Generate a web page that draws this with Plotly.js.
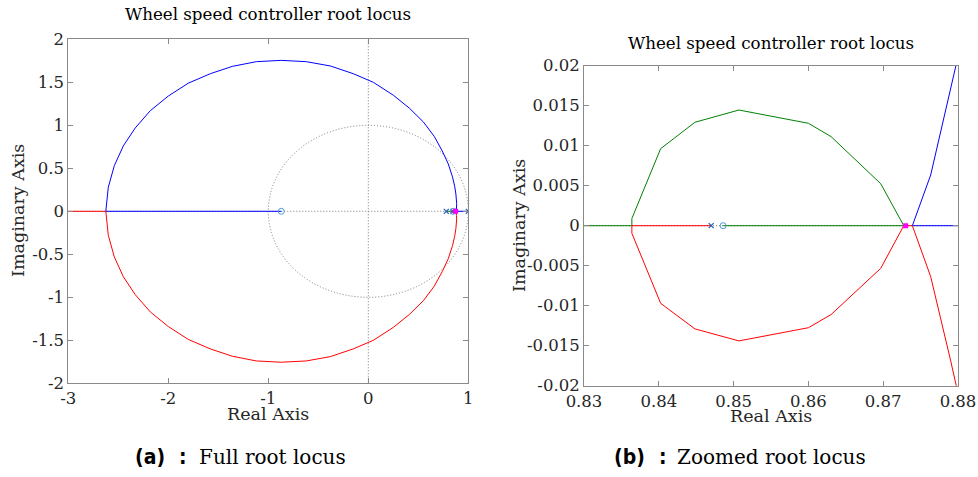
<!DOCTYPE html>
<html>
<head>
<meta charset="utf-8">
<script src="https://cdn.plot.ly/plotly-3.0.1.min.js"></script>
<style>html,body{margin:0;padding:0;background:#fff;}#chart{width:978px;height:477px;}</style>
</head>
<body>
<div id="chart"></div>
<script>
// ---- Data ----
// Upper (blue) main arc, from break-away near 0.874 to break-in at -2.625
const blueArcX = [0.8739, 0.87635, 0.879, 0.8812, 0.8825, 0.8835, 0.882, 0.876, 0.864, 0.842, 0.8, 0.74, 0.66, 0.55, 0.41, 0.25, 0.05, -0.15, -0.38, -0.62, -0.87, -1.12, -1.36, -1.58, -1.8, -2.0, -2.18, -2.33, -2.45, -2.54, -2.6, -2.62, -2.625];
const blueArcY = [0, 0.00634, 0.01696, 0.026, 0.05, 0.09, 0.14, 0.2, 0.29, 0.4, 0.55, 0.7, 0.87, 1.04, 1.2, 1.35, 1.5, 1.6, 1.69, 1.74, 1.755, 1.74, 1.685, 1.6, 1.49, 1.34, 1.17, 0.97, 0.76, 0.53, 0.28, 0.1, 0];
// Lower (red) main arc
const redArcX = [0.8739, 0.87635, 0.879, 0.8812, 0.8825, 0.8835, 0.882, 0.876, 0.864, 0.842, 0.8, 0.74, 0.66, 0.55, 0.41, 0.25, 0.05, -0.15, -0.38, -0.62, -0.87, -1.12, -1.36, -1.58, -1.8, -2.0, -2.18, -2.33, -2.45, -2.54, -2.6, -2.62, -2.625];
const redArcY = [0, -0.00637, -0.0168, -0.026, -0.05, -0.09, -0.14, -0.2, -0.29, -0.4, -0.55, -0.7, -0.87, -1.04, -1.2, -1.35, -1.5, -1.6, -1.69, -1.74, -1.755, -1.74, -1.685, -1.6, -1.49, -1.34, -1.17, -0.97, -0.76, -0.53, -0.28, -0.1, 0];
// Small loop between 0.8364 and 0.8727
const greenLoopX = [0.8364, 0.8364, 0.84025, 0.84483, 0.85071, 0.86001, 0.86304, 0.86967, 0.87275];
const greenLoopY = [0, 0.0009, 0.00963, 0.01293, 0.01446, 0.0128, 0.01113, 0.00525, 0];
const redLoopX = [0.8364, 0.8364, 0.84025, 0.84483, 0.85071, 0.86001, 0.86304, 0.86967, 0.87275];
const redLoopY = [0, -0.00095, -0.0097, -0.0129, -0.0144, -0.01275, -0.0111, -0.00533, 0];
// Open-loop poles / zeros and closed-loop pole
const polesX = [0.78, 0.847, 1.0];
const zerosX = [-0.87, 0.8486];
const closedPoleX = [0.873];
// Real-axis end points
const zeroFar = -0.87;      // blue branch ends at this zero
const zeroNear = 0.8486;    // green branch ends at this zero
const farLeft = -3.5;       // red branch heads to -infinity

// Tick labels
const xTicksA = [-3, -2, -1, 0, 1];
const xLabelsA = ['-3', '-2', '-1', '0', '1'];
const yTicksA = [-2, -1.5, -1, -0.5, 0, 0.5, 1, 1.5, 2];
const yLabelsA = ['-2', '-1.5', '-1', '-0.5', '0', '0.5', '1', '1.5', '2'];
const xTicksB = [0.83, 0.84, 0.85, 0.86, 0.87, 0.88];
const xLabelsB = ['0.83', '0.84', '0.85', '0.86', '0.87', '0.88'];
const yTicksB = [-0.02, -0.015, -0.01, -0.005, 0, 0.005, 0.01, 0.015, 0.02];
const yLabelsB = ['-0.02', '-0.015', '-0.01', '-0.005', '0', '0.005', '0.01', '0.015', '0.02'];

const titleText = 'Wheel speed controller root locus';

// ---- Build branches ----
const zeros0 = n => new Array(n).fill(0);
const blueX = [polesX[2]].concat(blueArcX, [zeroFar]);
const blueY = [0].concat(blueArcY, [0]);
const redX = [polesX[1]].concat(redLoopX, redArcX, [farLeft]);
const redY = [0].concat(redLoopY, redArcY, [0]);
const greenX = [polesX[0]].concat(greenLoopX, [zeroNear]);
const greenY = [0].concat(greenLoopY, [0]);

const BLUE = '#0000ff', RED = '#ff0000', GREEN = '#008000';
const POLE = '#2a5fb0', ZERO = '#4a9ad8';

function traces(xa, ya) {
  const base = {type: 'scatter', mode: 'lines', xaxis: xa, yaxis: ya, hoverinfo: 'skip', cliponaxis: true};
  return [
    Object.assign({}, base, {x: greenX, y: greenY, line: {color: GREEN, width: 1}}),
    Object.assign({}, base, {x: blueX, y: blueY, line: {color: BLUE, width: 1}}),
    Object.assign({}, base, {x: redX, y: redY, line: {color: RED, width: 1}}),
    Object.assign({}, base, {mode: 'markers', x: polesX, y: zeros0(polesX.length),
      marker: {symbol: 'x-thin-open', size: 5, color: POLE, line: {color: POLE, width: 1.2}}}),
    Object.assign({}, base, {mode: 'markers', x: zerosX, y: zeros0(zerosX.length),
      marker: {symbol: 'circle-open', size: 6, color: ZERO, line: {color: ZERO, width: 1}}}),
    Object.assign({}, base, {mode: 'markers', x: closedPoleX, y: zeros0(closedPoleX.length),
      marker: {symbol: 'square', size: 5, color: '#ff00ff', line: {width: 0}}})
  ];
}

const data = traces('x', 'y').concat(traces('x2', 'y2'));

const W = 978, H = 477;
const px = v => v / W;
const py = v => 1 - v / H;
const AX = '#8a8a8a';
const serif = 'DejaVu Serif, serif';
const sansB = 'DejaVu Sans Condensed, DejaVu Sans, sans-serif';
const tickFont = {family: serif, size: 16.5, color: '#262626'};

function axis(domain, range, tv, tt, anchor) {
  return {domain: domain, range: range, tickvals: tv, ticktext: tt, ticks: 'inside', ticklen: 5,
    tickcolor: AX, linecolor: AX, linewidth: 1, showline: true, mirror: 'ticks', showgrid: false,
    zeroline: false, anchor: anchor, tickfont: tickFont, fixedrange: true};
}

const dot = {color: '#7a7a7a', width: 1, dash: '1px,2px'};

function ann(text, x, y, size, opts) {
  return Object.assign({text: text, xref: 'paper', yref: 'paper', x: px(x), y: py(y), showarrow: false,
    font: {family: serif, size: size, color: '#000'}, xanchor: 'center', yanchor: 'middle'}, opts || {});
}

const layout = {
  width: W, height: H, margin: {l: 0, r: 0, t: 0, b: 0}, showlegend: false,
  paper_bgcolor: '#ffffff', plot_bgcolor: '#ffffff',
  xaxis: axis([px(68.3), px(468.3)], [-3, 1], xTicksA, xLabelsA, 'y'),
  yaxis: axis([py(383.3), py(39.3)], [-2, 2], yTicksA, yLabelsA, 'x'),
  xaxis2: axis([px(584), px(958)], [0.83, 0.88], xTicksB, xLabelsB, 'y2'),
  yaxis2: axis([py(385.7), py(65.7)], [-0.02, 0.02], yTicksB, yLabelsB, 'x2'),
  shapes: [
    {type: 'line', xref: 'x', yref: 'y', x0: 0, x1: 0, y0: -2, y1: 2, line: dot, layer: 'below'},
    {type: 'line', xref: 'x', yref: 'y', x0: -3, x1: 1, y0: 0, y1: 0, line: dot, layer: 'below'},
    {type: 'circle', xref: 'x', yref: 'y', x0: -1, x1: 1, y0: -1, y1: 1, line: dot, layer: 'below'},
    {type: 'line', xref: 'x2', yref: 'y2', x0: 0.83, x1: 0.88, y0: 0, y1: 0, line: dot, layer: 'below'}
  ],
  annotations: [
    ann(titleText, 268, 14, 16.7),
    ann(titleText, 771, 43, 16.7),
    ann('Real Axis', 268, 414, 17.5, {font: {family: serif, size: 17.5, color: '#262626'}}),
    ann('Real Axis', 771, 416, 17.5, {font: {family: serif, size: 17.5, color: '#262626'}}),
    ann('Imaginary Axis', 18, 211, 17.5, {textangle: -90, font: {family: serif, size: 17.5, color: '#262626'}}),
    ann('Imaginary Axis', 519, 226, 17.5, {textangle: -90, font: {family: serif, size: 17.5, color: '#262626'}}),
    ann('<b>(a)</b>', 133, 457, 21, {xanchor: 'left', font: {family: sansB, size: 21, color: '#000'}}),
    ann('<b>:</b>', 177, 457, 21, {xanchor: 'left', font: {family: sansB, size: 21, color: '#000'}}),
    ann('Full root locus', 197, 457, 20, {xanchor: 'left'}),
    ann('<b>(b)</b>', 612, 457, 21, {xanchor: 'left', font: {family: sansB, size: 21, color: '#000'}}),
    ann('<b>:</b>', 657, 457, 21, {xanchor: 'left', font: {family: sansB, size: 21, color: '#000'}}),
    ann('Zoomed root locus', 675, 457, 20, {xanchor: 'left'})
  ]
};

Plotly.newPlot('chart', data, layout, {staticPlot: true, displayModeBar: false});
</script>
</body>
</html>
